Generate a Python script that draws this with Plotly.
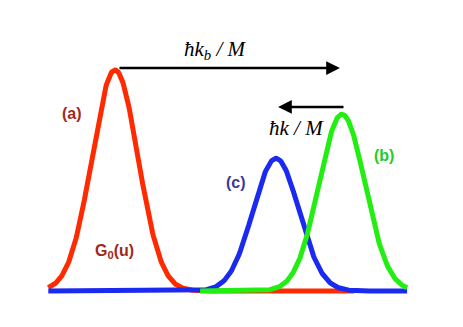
import numpy as np
import plotly.graph_objects as go

# Gaussian profiles (velocity u in units of the width sigma)
names = ["(a)", "(c)", "(b)"]
centers = [0.0, 7.0, 9.87]
heights = [1.0, 0.60, 0.80]
sigmas = [1.0, 1.0, 1.0]
u_start = [-2.9, -2.9, 3.7]
u_end = [10.4, 12.7, 12.7]
colors = ["#ff2a00", "#1a2af0", "#22ee11"]

fig = go.Figure()

for c, h, s, a, b, col in zip(centers, heights, sigmas, u_start, u_end, colors):
    u = np.linspace(a, b, 400)
    g = h * np.exp(-(u - c) ** 2 / (2 * s ** 2))
    fig.add_trace(go.Scatter(x=u, y=g, mode="lines",
                             line=dict(color=col, width=5), hoverinfo="none"))

# arrows: recoil velocities
fig.add_annotation(x=9.78, y=1.009, ax=0.13, ay=1.009, xref="x", yref="y",
                   axref="x", ayref="y", showarrow=True, arrowhead=2,
                   arrowsize=1.1, arrowwidth=2.5, arrowcolor="black", text="")
fig.add_annotation(x=7.09, y=0.833, ax=10.0, ay=0.833, xref="x", yref="y",
                   axref="x", ayref="y", showarrow=True, arrowhead=2,
                   arrowsize=1.1, arrowwidth=2.5, arrowcolor="black", text="")

serif = dict(family="Liberation Serif", size=21, color="black")
fig.add_annotation(x=4.39, y=1.09, text="<i>ħk<sub>b</sub> / M</i>",
                   showarrow=False, font=serif)
fig.add_annotation(x=7.91, y=0.738, text="<i>ħk / M</i>",
                   showarrow=False, font=serif)

lab = dict(family="Liberation Sans", size=16)
fig.add_annotation(x=-1.87, y=0.805, text="<b>(a)</b>", showarrow=False,
                   font=dict(lab, color="#a0281e"))
fig.add_annotation(x=-0.04, y=0.181, text="<b>G<sub>0</sub>(u)</b>",
                   showarrow=False, font=dict(lab, color="#a0281e"))
fig.add_annotation(x=11.7, y=0.615, text="<b>(b)</b>", showarrow=False,
                   font=dict(lab, color="#22cc22"))
fig.add_annotation(x=5.26, y=0.489, text="<b>(c)</b>", showarrow=False,
                   font=dict(lab, color="#3a3a9a"))

fig.update_layout(
    width=463, height=327,
    margin=dict(l=0, r=0, t=0, b=0),
    xaxis=dict(range=[-4.652, 15.478], visible=False),
    yaxis=dict(range=[-0.199, 1.2805], visible=False),
    showlegend=False,
    plot_bgcolor="white", paper_bgcolor="white"
)

fig.write_html("out.html")
